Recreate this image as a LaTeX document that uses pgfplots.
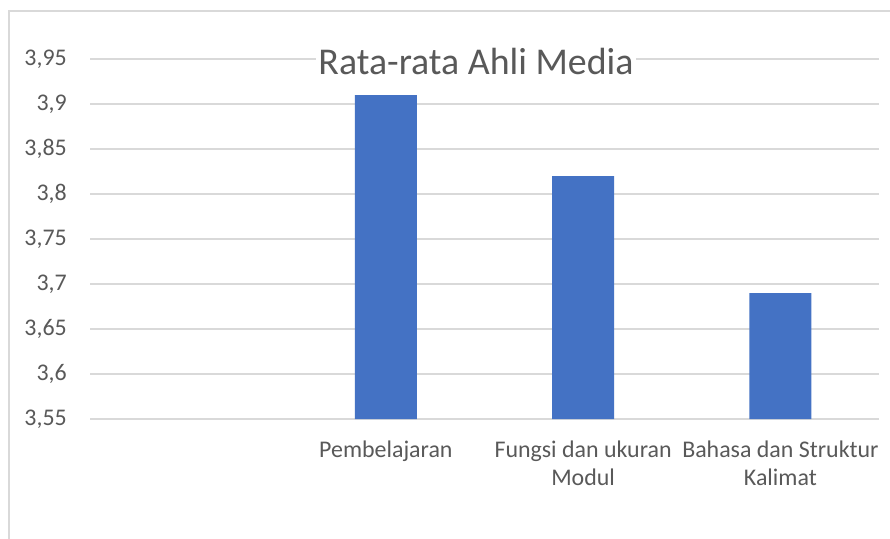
\documentclass[border=0pt]{standalone}
\usepackage{fontspec}
\setmainfont{Carlito}
\usepackage{pgfplots}
\pgfplotsset{compat=1.18}
\definecolor{barc}{HTML}{4472C4}
\definecolor{gridc}{HTML}{D9D9D9}
\definecolor{txt}{HTML}{595959}
\begin{document}
\begin{tikzpicture}
\path[use as bounding box] (0,0) rectangle (890bp,-539bp);
\fill[white] (0,0) rectangle (890bp,-539bp);
\draw[gridc, line width=1.3bp] (9bp,-539bp) -- (9bp,-11bp) -- (890bp,-11bp);
\begin{axis}[
  at={(90bp,-419bp)}, anchor=south west,
  scale only axis, width=789bp, height=360bp,
  xmin=-0.5, xmax=3.5, ymin=3.55, ymax=3.95,
  axis line style={draw=none}, major tick length=0,
  ymajorgrids, grid style={gridc, line width=1.2bp},
  ytick={3.55,3.6,3.65,3.7,3.75,3.8,3.85,3.9,3.95},
  yticklabels={{3,55},{3,6},{3,65},{3,7},{3,75},{3,8},{3,85},{3,9},{3,95}},
  xtick={0,1,2,3},
  xticklabels={{},{Pembelajaran},{Fungsi dan ukuran\\Modul},{Bahasa dan Struktur\\Kalimat}},
  xticklabel style={align=center, font=\fontsize{24}{28}\selectfont, text=txt, anchor=north, inner sep=0pt, yshift=-22bp},
  yticklabel style={font=\fontsize{24}{28}\selectfont, text=txt, anchor=east, inner sep=0pt, xshift=-23bp},
  clip=true,
]
\addplot[ybar, bar width=62bp, fill=barc, draw=none] coordinates {(1,3.91) (2,3.82) (3,3.69)};
\end{axis}
\node[anchor=base, fill=white, inner sep=2bp, font=\fontsize{38}{42}\selectfont, text=txt] at (476bp,-74bp) {Rata-rata Ahli Media};
\end{tikzpicture}
\end{document}
